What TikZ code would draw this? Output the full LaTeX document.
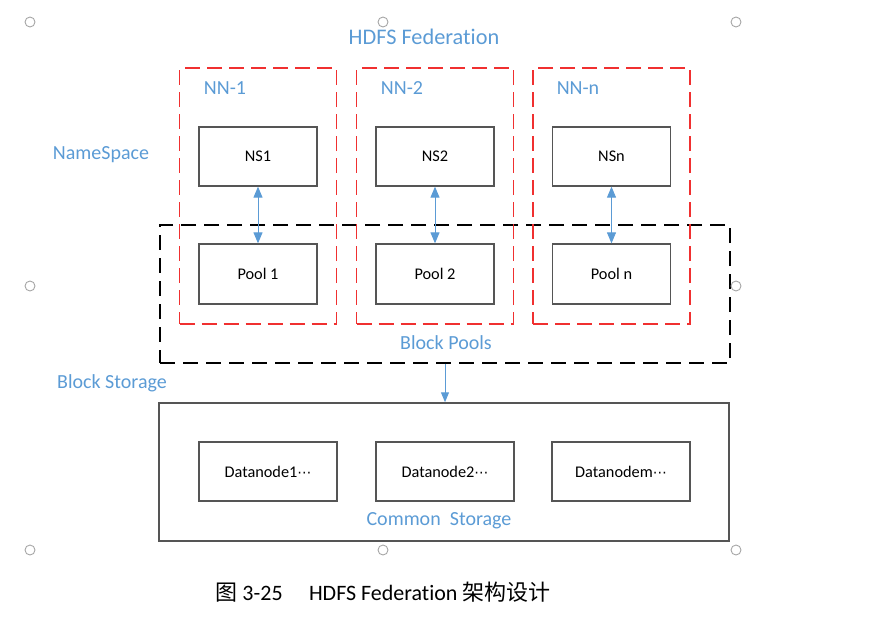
\documentclass[tikz,border=0pt]{standalone}
\usepackage{fontspec}
\setmainfont{Carlito}[Ligatures=NoCommon]
\newfontfamily\cjk{Noto Sans CJK SC}
\newfontfamily\symfont{DejaVu Sans}
\usetikzlibrary{arrows.meta}
\definecolor{lblue}{HTML}{5B9BD5}
\definecolor{boxgray}{HTML}{555555}
\definecolor{hgray}{HTML}{A6A6A6}
\definecolor{ddred}{HTML}{F03030}
\tikzset{
  inbox/.style={draw=boxgray, line width=1.3pt, fill=white, inner sep=0pt, font=\fontsize{16.3}{19}\selectfont},
  redbox/.style={draw=ddred, line width=1.2pt, dash pattern=on 15pt off 7pt, inner sep=0pt, minimum width=157pt, minimum height=256pt},
  blackbox/.style={draw=black, line width=1.2pt, dash pattern=on 15pt off 8pt, inner sep=0pt},
  outerbox/.style={draw=boxgray, line width=1.5pt, inner sep=0pt},
  bluelabel/.style={text=lblue, inner sep=0pt, font=\fontsize{20}{23}\selectfont},
  dblarrow/.style={draw=lblue, line width=1pt, {Triangle[length=11pt,width=9pt]}-{Triangle[length=11pt,width=9pt]}},
  sglarrow/.style={draw=lblue, line width=1pt, -{Triangle[length=10pt,width=8pt]}},
  handle/.style={draw=hgray, line width=0.9pt, fill=white, circle, minimum size=10pt, inner sep=0pt}
}
\newcommand{\mydots}{{\symfont\fontsize{14}{16}\selectfont ⋯}}
\begin{document}
\begin{tikzpicture}[x=1pt,y=-1pt]
\useasboundingbox (0,0) rectangle (883,625);
% dashed groups
\node[blackbox, minimum width=570pt, minimum height=138pt] (bp) at (445,294) {};
\node[redbox] (nn1) at (258,196) {};
\node[redbox] (nn2) at (435,196) {};
\node[redbox] (nnn) at (611.5,196) {};
% namespace boxes
\node[inbox, minimum width=118pt, minimum height=59pt] (ns1) at (258,156.5) {NS1};
\node[inbox, minimum width=118pt, minimum height=59pt] (ns2) at (435,156.5) {NS2};
\node[inbox, minimum width=118pt, minimum height=59pt] (nsn) at (611.5,156.5) {NSn};
\node[inbox, minimum width=118pt, minimum height=60pt] (p1) at (258,274) {Pool 1};
\node[inbox, minimum width=118pt, minimum height=60pt] (p2) at (435,274) {Pool 2};
\node[inbox, minimum width=118pt, minimum height=60pt] (pn) at (611.5,274) {Pool n};
% common storage
\node[outerbox, minimum width=570pt, minimum height=138pt] (cs) at (444,472) {};
\node[inbox, minimum width=138pt, minimum height=59pt] (d1) at (268,471.5) {Datanode1\mydots};
\node[inbox, minimum width=138pt, minimum height=59pt] (d2) at (445,471.5) {Datanode2\mydots};
\node[inbox, minimum width=138pt, minimum height=59pt] (dm) at (621,471.5) {Datanodem\mydots};
% arrows
\draw[dblarrow] (ns1.south) -- (p1.north);
\draw[dblarrow] (ns2.south) -- (p2.north);
\draw[dblarrow] (nsn.south) -- (pn.north);
\draw[sglarrow] (bp.south) -- (bp.south |- cs.north);
% labels
\node[bluelabel, font=\fontsize{22.3}{26}\selectfont] (title) at (424,37) {HDFS Federation};
\node[bluelabel] (l1) at (225,88) {NN-1};
\node[bluelabel] (l2) at (402,88) {NN-2};
\node[bluelabel] (ln) at (578,88) {NN-n};
\node[bluelabel] (nsl) at (101,155) {NameSpace};
\node[bluelabel] (bpl) at (446,343) {Block Pools};
\node[bluelabel] (bsl) at (112,383) {Block Storage};
\node[bluelabel] (csl) at (439,521) {Common\ \ Storage};
% caption
\node[inner sep=0pt, font=\fontsize{22}{26}\selectfont] (cap) at (383,592) {{\cjk 图} 3-25\hspace{1.2em}HDFS Federation {\cjk 架构设计}};
% selection handles
\node[handle] (h1) at (30,22) {};
\node[handle] (h2) at (383,22) {};
\node[handle] (h3) at (736,22) {};
\node[handle] (h4) at (30,286) {};
\node[handle] (h5) at (736,286) {};
\node[handle] (h6) at (30,550) {};
\node[handle] (h7) at (383,550) {};
\node[handle] (h8) at (736,550) {};
\end{tikzpicture}
\end{document}
